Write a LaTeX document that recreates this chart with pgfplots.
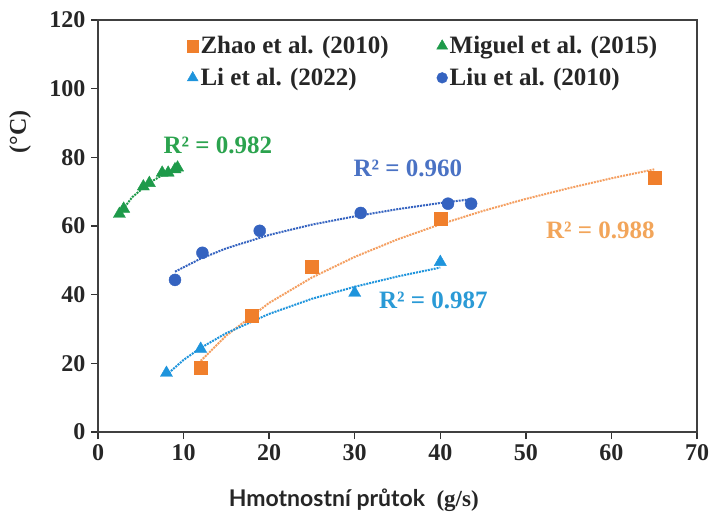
\documentclass[border=0pt]{standalone}
\usepackage{pgfplots}
\pgfplotsset{compat=1.18}
\usepackage{fontspec}
\setmainfont{Liberation Serif}
\newfontfamily\labfont{Lato}
\definecolor{zhao}{HTML}{F07F2C}
\definecolor{zhaotxt}{HTML}{F2A55A}
\definecolor{miguel}{HTML}{1E9A4A}
\definecolor{miguelt}{HTML}{2BA34E}
\definecolor{li}{HTML}{1E94DC}
\definecolor{litxt}{HTML}{2A9AD6}
\definecolor{liu}{HTML}{3563C0}
\definecolor{liutxt}{HTML}{4A72C4}
\begin{document}
\begin{tikzpicture}[x=1pt,y=1pt]
\useasboundingbox (0,0) rectangle (711,517);
\begin{axis}[
  at={(98pt,85pt)}, anchor=south west,
  scale only axis, width=599pt, height=412pt,
  xmin=0, xmax=70, ymin=0, ymax=120,
  xtick={0,10,...,70}, ytick={0,20,...,120},
  tick align=outside, tick pos=left, major tick length=7pt,
  every tick/.style={black!80, line width=1.5pt},
  axis line style={line width=1.5pt, black!75},
  /pgf/number format/assume math mode=true,
  ticklabel style={font=\rmfamily\bfseries\fontsize{24}{24}\selectfont, text=black!85},
  xticklabel style={yshift=-2pt},
  yticklabel style={xshift=-2pt},
  xlabel={{\labfont\bfseries Hmotnostní průtok}\ \ (g/s)},
  xlabel style={at={(axis description cs:0.427,0)}, yshift=-68pt, anchor=center, font=\rmfamily\bfseries\fontsize{23}{24}\selectfont, text=black!85},
  ylabel={(°C)},
  ylabel style={at={(axis description cs:-0.13,0.728)}, anchor=center, font=\rmfamily\bfseries\fontsize{24}{24}\selectfont, text=black!85},
  legend columns=2,
  legend style={at={(axis description cs:0.143,0.97)}, anchor=north west, draw=none, fill=none,
    font=\rmfamily\bfseries\fontsize{25}{27}\selectfont, text=black!85,
    /tikz/every even column/.append style={column sep=46pt}, row sep=9pt},
  legend image post style={scale=0.9},
  legend cell align=left,
]
% trendlines
\addplot[zhao!75, densely dotted, line width=2pt, forget plot] coordinates {
(12,20.7) (15,28.1) (20,37.6) (25,45.0) (30,51.0) (35,56.1) (40,60.5) (45,64.4) (50,67.9) (55,71.0) (60,73.9) (65,76.5)};
\addplot[miguel, densely dotted, line width=2pt, forget plot] coordinates {
(2.5,63.5) (4,68.4) (6,72.6) (8,75.5) (9.3,77.1)};
\addplot[li, densely dotted, line width=2pt, forget plot] coordinates {
(8,16.6) (10,21.0) (12,24.5) (15,28.8) (20,34.4) (25,38.8) (30,42.3) (35,45.3) (40,47.9)};
\addplot[liu, densely dotted, line width=2pt, forget plot] coordinates {
(9,46.7) (12,50.5) (15,53.5) (20,57.4) (25,60.4) (30,62.8) (35,64.9) (40,66.7) (43.6,67.8)};
% data
\addplot[only marks, mark=square*, mark size=6.5pt, zhao, mark options={fill=zhao, draw=zhao}] coordinates {
(12,18.6) (18,33.8) (25,48.2) (40,62.1) (65,74)};
\addlegendentry{Zhao et al. (2010)}
\addplot[only marks, mark=triangle*, mark size=7pt, miguel, mark options={fill=miguel, draw=miguel}] coordinates {
(2.5,63.5) (3,65) (5.3,71.5) (6,72.5) (7.5,75.5) (8.2,75.5) (9,76.5) (9.3,77)};
\addlegendentry{Miguel et al. (2015)}
\addplot[only marks, mark=triangle*, mark size=7pt, li, mark options={fill=li, draw=li}] coordinates {
(8,17.2) (12,24.2) (30,40.5) (40,49.5)};
\addlegendentry{Li et al. (2022)}
\addplot[only marks, mark=*, mark size=6pt, liu, mark options={fill=liu, draw=liu}] coordinates {
(9,44.3) (12.2,52.2) (18.9,58.6) (30.7,63.8) (40.9,66.5) (43.6,66.5)};
\addlegendentry{Liu et al. (2010)}
% R^2 labels
\node[miguelt, font=\rmfamily\bfseries\fontsize{25}{25}\selectfont] at (axis cs:14.0,83.6) {R² = 0.982};
\node[liutxt, font=\rmfamily\bfseries\fontsize{25}{25}\selectfont] at (axis cs:36.2,76.9) {R² = 0.960};
\node[zhaotxt, font=\rmfamily\bfseries\fontsize{25}{25}\selectfont] at (axis cs:58.7,58.8) {R² = 0.988};
\node[litxt, font=\rmfamily\bfseries\fontsize{25}{25}\selectfont] at (axis cs:39.2,38.4) {R² = 0.987};
\end{axis}
\end{tikzpicture}
\end{document}
